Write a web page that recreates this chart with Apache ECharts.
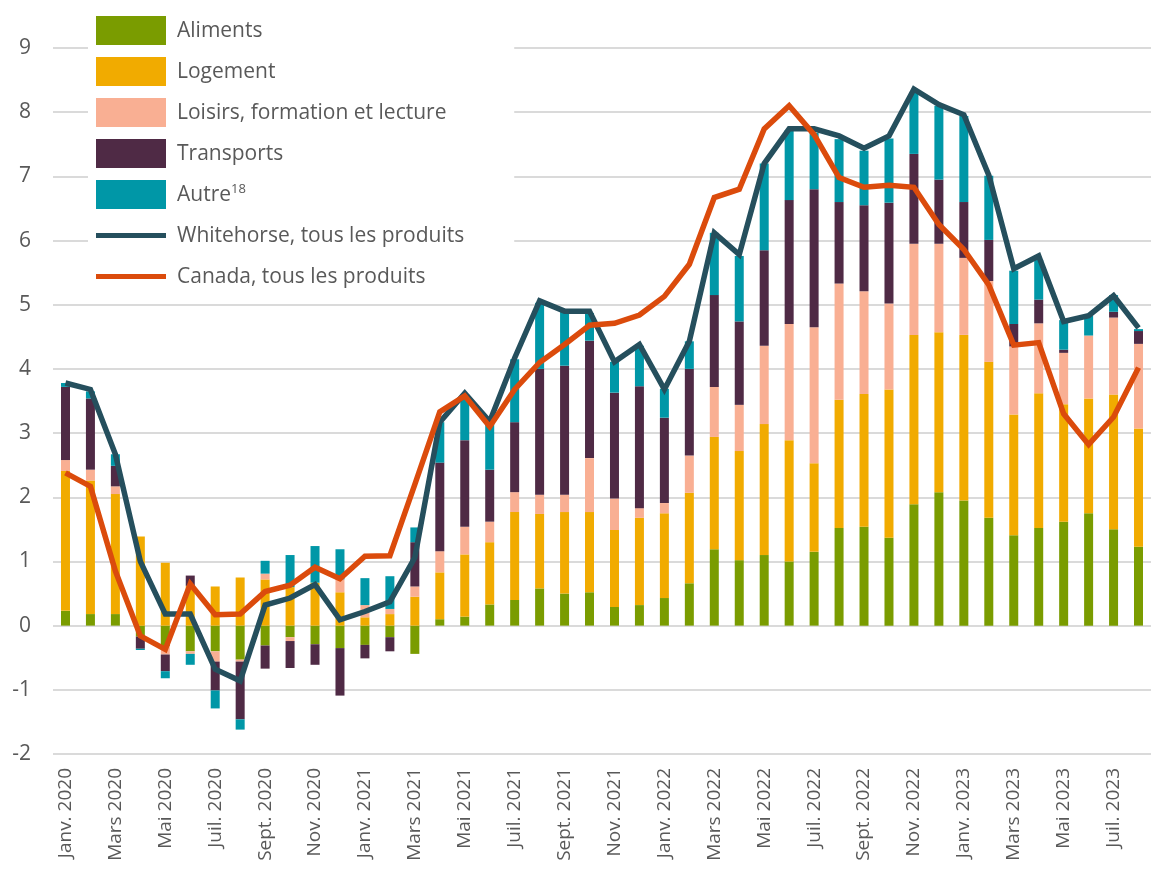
<!DOCTYPE html>
<html>
<head>
<meta charset="utf-8">
<script src="https://cdn.jsdelivr.net/npm/echarts@6/dist/echarts.min.js"></script>
<style>
    html, body { margin: 0; padding: 0; background: #fff; }
    #chart { width: 1151px; height: 871px; }
</style>
</head>
<body>
<div id="chart"></div>
<script>
// mois, janv. 2020 a aout 2023
let months = [
    'Janv. 2020', 'Févr. 2020', 'Mars 2020', 'Avr. 2020', 'Mai 2020', 'Juin 2020',
    'Juil. 2020', 'Août 2020', 'Sept. 2020', 'Oct. 2020', 'Nov. 2020', 'Déc. 2020',
    'Janv. 2021', 'Févr. 2021', 'Mars 2021', 'Avr. 2021', 'Mai 2021', 'Juin 2021',
    'Juil. 2021', 'Août 2021', 'Sept. 2021', 'Oct. 2021', 'Nov. 2021', 'Déc. 2021',
    'Janv. 2022', 'Févr. 2022', 'Mars 2022', 'Avr. 2022', 'Mai 2022', 'Juin 2022',
    'Juil. 2022', 'Août 2022', 'Sept. 2022', 'Oct. 2022', 'Nov. 2022', 'Déc. 2022',
    'Janv. 2023', 'Févr. 2023', 'Mars 2023', 'Avr. 2023', 'Mai 2023', 'Juin 2023',
    'Juil. 2023', 'Août 2023'
];

let aliments = [
    0.23, 0.18, 0.18, -0.17, -0.32, -0.40, -0.40, -0.53, -0.31, -0.18, -0.29, -0.35,
    -0.30, -0.18, -0.44, 0.10, 0.14, 0.33, 0.40, 0.58, 0.50, 0.52, 0.29, 0.32,
    0.43, 0.66, 1.19, 1.02, 1.10, 1.00, 1.15, 1.52, 1.54, 1.37, 1.89, 2.08,
    1.95, 1.68, 1.41, 1.52, 1.62, 1.75, 1.50, 1.23
];
let logement = [
    2.18, 2.08, 1.87, 1.39, 0.98, 0.62, 0.61, 0.75, 0.72, 0.60, 0.67, 0.52,
    0.13, 0.18, 0.45, 0.73, 0.97, 0.97, 1.37, 1.16, 1.27, 1.25, 1.20, 1.36,
    1.32, 1.41, 1.75, 1.70, 2.04, 1.89, 1.38, 2.00, 2.07, 2.31, 2.64, 2.49,
    2.58, 2.43, 1.88, 2.10, 1.83, 1.79, 2.10, 1.84
];
let loisirs = [
    0.17, 0.17, 0.12, 0, -0.13, -0.04, -0.16, -0.03, 0.09, -0.06, 0, 0.20,
    0.19, 0.08, 0.16, 0.33, 0.43, 0.32, 0.31, 0.30, 0.27, 0.84, 0.49, 0.15,
    0.16, 0.58, 0.78, 0.72, 1.22, 1.81, 2.12, 1.81, 1.60, 1.34, 1.42, 1.38,
    1.20, 1.26, 1.06, 1.09, 0.80, 0.98, 1.20, 1.32
];
let transports = [
    1.14, 1.11, 0.32, -0.19, -0.26, 0.16, -0.45, -0.90, -0.36, -0.42, -0.32, -0.74,
    -0.21, -0.22, 0.69, 1.38, 1.35, 0.81, 1.09, 1.96, 2.01, 1.83, 1.65, 1.90,
    1.33, 1.35, 1.43, 1.30, 1.49, 1.93, 2.15, 1.27, 1.34, 1.57, 1.40, 1.00,
    0.87, 0.64, 0.35, 0.37, 0.05, 0, 0.09, 0.20
];
let autre = [
    0.06, 0.11, 0.18, -0.02, -0.11, -0.17, -0.28, -0.16, 0.20, 0.50, 0.57, 0.47,
    0.42, 0.51, 0.23, 0.63, 0.71, 0.73, 0.98, 1.03, 0.85, 0.43, 0.48, 0.63,
    0.45, 0.43, 0.97, 1.02, 1.35, 1.09, 0.88, 0.98, 0.85, 1.00, 0.96, 1.15,
    1.34, 1.00, 0.83, 0.62, 0.46, 0.31, 0.26, 0.03
];
let whitehorse = [
    3.78, 3.68, 2.67, 1.00, 0.18, 0.18, -0.68, -0.86, 0.32, 0.43, 0.64, 0.09,
    0.22, 0.37, 1.06, 3.17, 3.62, 3.18, 4.17, 5.06, 4.90, 4.90, 4.11, 4.38,
    3.68, 4.43, 6.12, 5.78, 7.20, 7.74, 7.74, 7.63, 7.44, 7.63, 8.36, 8.12,
    7.96, 7.02, 5.56, 5.76, 4.74, 4.83, 5.14, 4.64
];
let canada = [
    2.38, 2.17, 0.85, -0.16, -0.37, 0.65, 0.17, 0.18, 0.53, 0.63, 0.91, 0.73,
    1.08, 1.09, 2.20, 3.33, 3.58, 3.10, 3.68, 4.10, 4.38, 4.68, 4.71, 4.84,
    5.13, 5.63, 6.67, 6.80, 7.74, 8.10, 7.65, 6.98, 6.83, 6.86, 6.83, 6.25,
    5.86, 5.31, 4.37, 4.41, 3.30, 2.82, 3.25, 4.02
];

let yTicks = { min: -2, max: 9, step: 1 };

let textColor = '#595959';
let fontName = 'Open Sans';
// trait horizontal centre dans une case 70 x 29
let lineIcon = 'path://M0,0 L0,0 M0,12 L70,12 L70,17 L0,17 Z M70,29 L70,29';

function barSeries(name, data, color) {
    return {
        name: name,
        type: 'bar',
        stack: 'ipc',
        data: data,
        barWidth: 9,
        itemStyle: { color: color },
        emphasis: { disabled: true }
    };
}

function lineSeries(name, data, color) {
    return {
        name: name,
        type: 'line',
        data: data,
        symbol: 'none',
        lineStyle: { color: color, width: 5.5, join: 'miter' },
        itemStyle: { color: color },
        emphasis: { disabled: true },
        z: 5
    };
}

let chart = echarts.init(document.getElementById('chart'), null, { renderer: 'canvas' });

chart.setOption({
    animation: false,
    textStyle: { fontFamily: fontName },
    grid: {
        left: 53,
        top: 48,
        width: 1110,
        height: 706
    },
    legend: {
        orient: 'vertical',
        left: 88,
        top: 6,
        padding: [10, 50, 8, 8],
        backgroundColor: '#ffffff',
        itemWidth: 70,
        itemHeight: 29,
        itemGap: 12,
        symbolKeepAspect: false,
        z: 10,
        textStyle: {
            color: textColor,
            fontSize: 21,
            fontFamily: fontName,
            padding: [2, 0, 0, 6],
            rich: {
                sup: { fontSize: 13, color: textColor, padding: [0, 0, 12, 0] }
            }
        },
        formatter: function(name) {
            return name === 'Autre' ? 'Autre{sup|18}' : name;
        },
        data: [
            { name: 'Aliments', icon: 'rect' },
            { name: 'Logement', icon: 'rect' },
            { name: 'Loisirs, formation et lecture', icon: 'rect' },
            { name: 'Transports', icon: 'rect' },
            { name: 'Autre', icon: 'rect' },
            { name: 'Whitehorse, tous les produits', icon: lineIcon },
            { name: 'Canada, tous les produits', icon: lineIcon }
        ]
    },
    xAxis: {
        type: 'category',
        data: months,
        axisLine: { show: false, onZero: false },
        axisTick: { show: false },
        axisLabel: {
            interval: 1,
            rotate: 90,
            margin: 14,
            color: textColor,
            fontSize: 19,
            fontFamily: fontName
        }
    },
    yAxis: {
        type: 'value',
        min: yTicks.min,
        max: yTicks.max,
        interval: yTicks.step,
        axisLine: { show: false },
        axisTick: { show: false },
        axisLabel: {
            margin: 22,
            color: textColor,
            fontSize: 21,
            fontFamily: fontName
        },
        splitLine: { lineStyle: { color: '#dadada', width: 2 } }
    },
    series: [
        barSeries('Aliments', aliments, '#7a9c00'),
        barSeries('Logement', logement, '#f1ab00'),
        barSeries('Loisirs, formation et lecture', loisirs, '#f9af93'),
        barSeries('Transports', transports, '#4f2a45'),
        barSeries('Autre', autre, '#0097a7'),
        lineSeries('Whitehorse, tous les produits', whitehorse, '#254f5d'),
        lineSeries('Canada, tous les produits', canada, '#db4b0c')
    ]
});
</script>
</body>
</html>
